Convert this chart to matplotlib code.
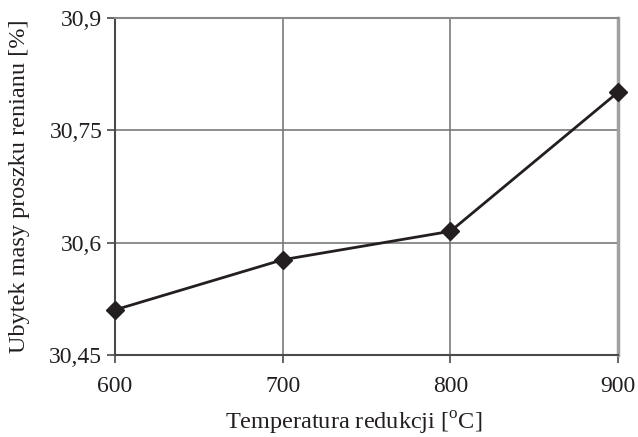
import matplotlib
matplotlib.use("Agg")
import matplotlib.pyplot as plt
from matplotlib.ticker import FixedLocator

# data
temperatures = [600, 700, 800, 900]
mass_loss = [30.510, 30.577, 30.615, 30.801]
y_ticks = [30.45, 30.6, 30.75, 30.9]
y_tick_labels = ["30,45", "30,6", "30,75", "30,9"]
x_ticks = [600, 700, 800, 900]

plt.rcParams['font.family'] = ['Liberation Serif', 'DejaVu Serif']
plt.rcParams['mathtext.fontset'] = 'custom'
plt.rcParams['mathtext.rm'] = 'Liberation Serif'

fig = plt.figure(figsize=(6.38, 4.37), dpi=100)
ax = fig.add_axes([0.180, 0.188, 0.789, 0.771])

ax.plot(temperatures, mass_loss, color='#231f20', linewidth=2,
        marker='D', markersize=9, markerfacecolor='#231f20',
        markeredgecolor='#231f20', clip_on=False, zorder=3)

ax.set_xlim(600, 900)
ax.set_ylim(30.45, 30.9)
ax.xaxis.set_major_locator(FixedLocator(x_ticks))
ax.yaxis.set_major_locator(FixedLocator(y_ticks))
ax.set_yticklabels(y_tick_labels)

ax.grid(True, color='#7a7a7a', linewidth=1.2)
ax.set_axisbelow(True)

ax.spines['left'].set_color('#4a4a4a')
ax.spines['left'].set_linewidth(1.5)
ax.spines['bottom'].set_color('#4a4a4a')
ax.spines['bottom'].set_linewidth(1.5)
ax.spines['top'].set_color('#8a8a8a')
ax.spines['top'].set_linewidth(1.5)
ax.spines['right'].set_color('#a0a0a0')
ax.spines['right'].set_linewidth(2.5)

ax.tick_params(axis='both', direction='out', length=6, width=1.2,
               color='#4a4a4a', labelsize=17, labelcolor='#231f20')
ax.tick_params(axis='x', pad=9)
ax.tick_params(axis='y', pad=3)

ax.set_xlabel("Temperatura redukcji [$^{\\mathrm{o}}$C]", fontsize=17.5,
              color='#231f20', va='center')
ax.xaxis.set_label_coords(0.475, -0.203)
ax.set_ylabel("Ubytek masy proszku renianu [%]", fontsize=17.5,
              color='#231f20', va='center')
ax.yaxis.set_label_coords(-0.189, 0.5)

fig.savefig("out.png", dpi=100)
